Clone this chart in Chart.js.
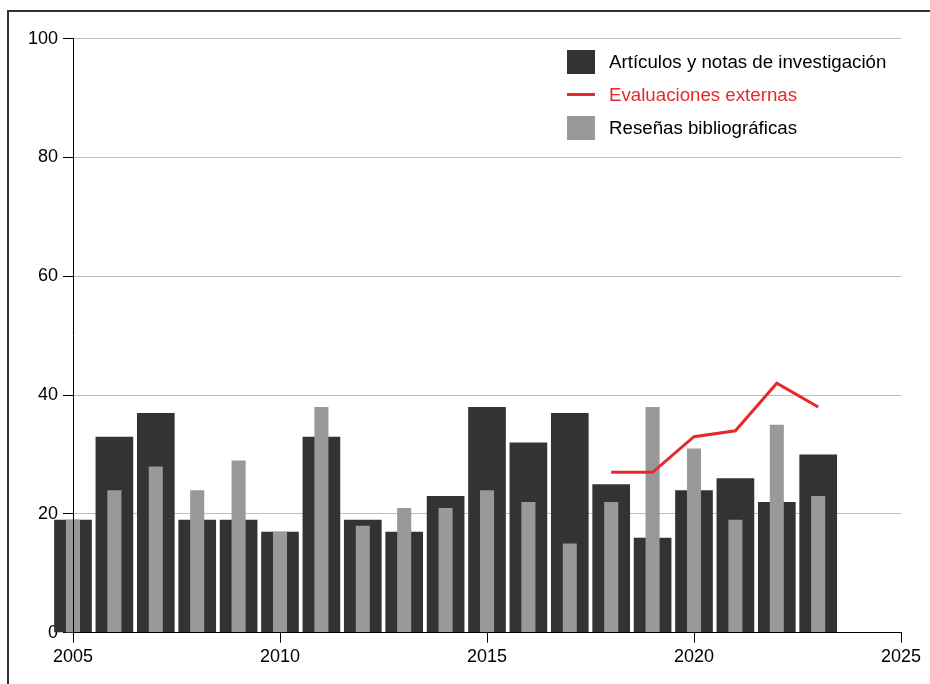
<!DOCTYPE html>
<html>
<head>
<meta charset="utf-8">
<script src="https://cdn.jsdelivr.net/npm/chart.js@4.4.0/dist/chart.umd.min.js"></script>
<style>
  body { margin: 0; background: #fff; font-family: "Liberation Sans", Arial, sans-serif; }
  #wrap { position: relative; width: 930px; height: 684px; overflow: hidden; }
  #frame { position: absolute; left: 7px; top: 10px; width: 1000px; height: 1000px;
           border-top: 2px solid #333; border-left: 2px solid #333; box-sizing: border-box; }
  #myChart { position: absolute; left: 0; top: 0; }
  #legend { position: absolute; left: 567px; top: 45px; font-size: 18.7px; }
  .row { display: flex; align-items: center; height: 33px; }
  .key { width: 28px; height: 24px; margin-right: 14px; }
  .key.line { height: 3px; }
</style>
</head>
<body>
<div id="wrap">
  <div id="frame"></div>
  <canvas id="myChart" width="930" height="684"></canvas>
  <div id="legend"></div>
</div>
<script>
// values
var years = [2005, 2006, 2007, 2008, 2009, 2010, 2011, 2012, 2013, 2014,
             2015, 2016, 2017, 2018, 2019, 2020, 2021, 2022, 2023];
var articulos = [19, 33, 37, 19, 19, 17, 33, 19, 17, 23, 38, 32, 37, 25, 16, 24, 26, 22, 30];
var resenas   = [19, 24, 28, 24, 29, 17, 38, 18, 21, 21, 24, 22, 15, 22, 38, 31, 19, 35, 23];
var evalYears = [2018, 2019, 2020, 2021, 2022, 2023];
var evaluaciones = [27, 27, 33, 34, 42, 38];
var xTicks = [2005, 2010, 2015, 2020, 2025];
var yTicks = [0, 20, 40, 60, 80, 100];

var fontFamily = '"Liberation Sans", Arial, sans-serif';

function points(xs, ys){
    return xs.map(function(x, i){ return {x: x, y: ys[i]}; });
}

var ctx = document.getElementById('myChart').getContext('2d');
var graphData = {
    type: 'bar',
    data: {
        datasets: [{
            label: 'Artículos y notas de investigación',
            data: points(years, articulos),
            backgroundColor: '#333333',
            barPercentage: 0.91,
            categoryPercentage: 1,
            grouped: false,
            clip: false,
            order: 3
        }, {
            type: 'line',
            label: 'Evaluaciones externas',
            data: points(evalYears, evaluaciones),
            borderColor: '#e62a2b',
            backgroundColor: '#e62a2b',
            borderWidth: 3,
            pointRadius: 0,
            tension: 0,
            order: 1
        }, {
            label: 'Reseñas bibliográficas',
            data: points(years, resenas),
            backgroundColor: '#999999',
            barPercentage: 0.34,
            categoryPercentage: 1,
            grouped: false,
            clip: false,
            order: 2
        }]
    },
    options: {
        responsive: false,
        devicePixelRatio: 1,
        animation: false,
        layout: { padding: { left: 0, top: 38.7, right: 29, bottom: 0 } },
        plugins: { legend: { display: false }, tooltip: { enabled: false } },
        scales: {
            x: {
                type: 'linear',
                min: 2005,
                max: 2025,
                offset: false,
                afterBuildTicks: function(scale){ scale.ticks = xTicks.map(function(v){ return {value: v}; }); },
                afterFit: function(scale){ scale.height = 51.3; },
                ticks: {
                    color: '#000',
                    font: { family: fontFamily, size: 18 },
                    padding: 4,
                    maxRotation: 0,
                    callback: function(v){ return String(v); }
                },
                grid: { offset: false, drawOnChartArea: false, drawTicks: true, tickLength: 10, tickColor: '#000' },
                border: { color: '#000', width: 1, z: 1 }
            },
            y: {
                min: 0,
                max: 100,
                afterBuildTicks: function(scale){ scale.ticks = yTicks.map(function(v){ return {value: v}; }); },
                afterFit: function(scale){ scale.width = 73; },
                ticks: {
                    color: '#000',
                    font: { family: fontFamily, size: 18 },
                    padding: 5
                },
                grid: { color: '#bdbdbd', lineWidth: 1, drawTicks: true, tickLength: 10, tickColor: '#000' },
                border: { color: '#000', width: 1, z: 1 }
            }
        }
    }
};
var myChart = new Chart(ctx, graphData);

// legend as html, built from the datasets
var legend = document.getElementById('legend');
graphData.data.datasets.forEach(function(ds){
    var row = document.createElement('div');
    row.className = 'row';
    var key = document.createElement('div');
    var isLine = ds.type === 'line';
    key.className = isLine ? 'key line' : 'key';
    key.style.background = isLine ? ds.borderColor : ds.backgroundColor;
    var txt = document.createElement('span');
    txt.textContent = ds.label;
    txt.style.color = isLine ? ds.borderColor : '#000';
    row.appendChild(key);
    row.appendChild(txt);
    legend.appendChild(row);
});
</script>
</body>
</html>
